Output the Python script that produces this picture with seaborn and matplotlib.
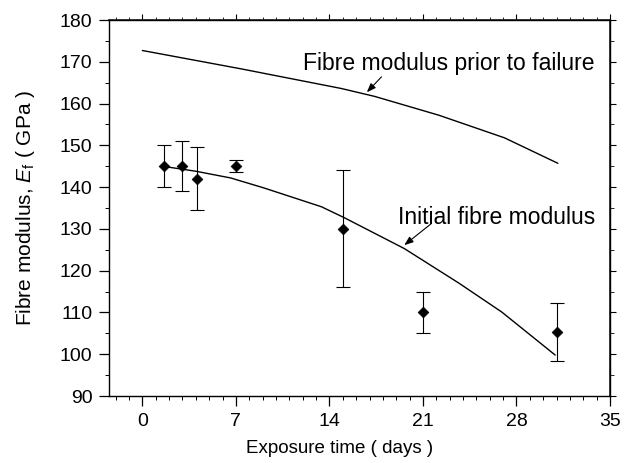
import numpy as np
import pandas as pd
import matplotlib
matplotlib.use("Agg")
import matplotlib.pyplot as plt
import seaborn as sns
from matplotlib.ticker import MultipleLocator

# Data
pt_days = [1.6, 3.0, 4.1, 7.0, 15.0, 21.0, 31.0]
pt_modulus = [145, 145, 142, 145, 130, 110, 105.3]
pt_err = [5, 6, 7.5, 1.5, 14, 5, 7]

prior_days = [0, 7.4, 14.9, 17.4, 22.2, 27.1, 31.1]
prior_modulus = [172.7, 168.3, 163.6, 161.7, 157.2, 151.8, 145.7]

init_days = [1.5, 4.0, 6.6, 9.1, 13.4, 15.1, 19.6, 23.7, 26.9, 30.9]
init_modulus = [145.0, 143.8, 142.2, 139.8, 135.3, 132.7, 125.3, 117.0, 110.1, 99.8]

xticks = [0, 7, 14, 21, 28, 35]
yticks = [90, 100, 110, 120, 130, 140, 150, 160, 170, 180]

label_prior = "Fibre modulus prior to failure"
label_init = "Initial fibre modulus"

sns.set_theme(style="ticks")
plt.rcParams['font.family'] = ['Liberation Sans', 'DejaVu Sans']
plt.rcParams['mathtext.fontset'] = 'custom'
plt.rcParams['mathtext.it'] = 'Liberation Sans:italic'
plt.rcParams['mathtext.rm'] = 'Liberation Sans'

fig = plt.figure(figsize=(6.31, 4.63), dpi=100)
ax = fig.add_axes([0.1727, 0.1447, 0.794, 0.8121])

df_prior = pd.DataFrame({"day": prior_days, "mod": prior_modulus})
df_init = pd.DataFrame({"day": init_days, "mod": init_modulus})
sns.lineplot(data=df_prior, x="day", y="mod", ax=ax, color="black", lw=1.0, sort=False)
sns.lineplot(data=df_init, x="day", y="mod", ax=ax, color="black", lw=1.0, sort=False)

ax.errorbar(pt_days, pt_modulus, yerr=pt_err, fmt="none", ecolor="black",
            elinewidth=0.8, capsize=4.8, capthick=0.8)
sns.scatterplot(x=pt_days, y=pt_modulus, ax=ax, marker="D", color="black",
                s=30, edgecolor="black", linewidth=0.5, zorder=5)

ax.set_xlim(-2.5, 35)
ax.set_ylim(90, 180)
ax.set_xticks(xticks)
ax.set_yticks(yticks)
ax.xaxis.set_minor_locator(MultipleLocator(1))
ax.yaxis.set_minor_locator(MultipleLocator(5))

for s in ax.spines.values():
    s.set_visible(True)
    s.set_linewidth(1.0)
    s.set_color("black")

ax.tick_params(which="major", direction="out", length=7, width=0.9, colors="black",
               labelsize=14, pad=5)
ax.tick_params(which="minor", direction="out", length=3, width=0.7, colors="black")

# top and right ticks (shorter, outward, no labels)
secx = ax.secondary_xaxis("top")
secx.set_xticks(xticks)
secx.xaxis.set_minor_locator(MultipleLocator(1))
secx.tick_params(which="major", direction="out", length=4.5, width=0.8, labeltop=False,
                 colors="black")
secx.tick_params(which="minor", direction="out", length=2.5, width=0.6, colors="black")
secy = ax.secondary_yaxis("right")
secy.set_yticks(yticks)
secy.yaxis.set_minor_locator(MultipleLocator(5))
secy.tick_params(which="major", direction="out", length=4.5, width=0.8, labelright=False,
                 colors="black")
secy.tick_params(which="minor", direction="out", length=3, width=0.6, colors="black")

ax.set_xlabel("Exposure time ( days )", fontsize=13.5, color="black")
ax.xaxis.set_label_coords(0.461, -0.118)
ax.set_ylabel(r"Fibre modulus, $\mathit{E}_{\mathrm{f}}$ ( GPa )", fontsize=15,
              color="black", labelpad=16)

arrow = dict(arrowstyle="-|>,head_length=0.45,head_width=0.17",
             color="black", lw=0.8, shrinkA=0, shrinkB=0)
ax.text(22.95, 169.7, label_prior, ha="center", va="center", fontsize=16.5, color="black")
ax.annotate("", xy=(16.8, 162.7), xytext=(17.9, 166.4), arrowprops=arrow)
ax.text(26.5, 132.8, label_init, ha="center", va="center", fontsize=16.5, color="black")
ax.annotate("", xy=(19.6, 126.1), xytext=(21.6, 131.2), arrowprops=arrow)

fig.savefig("out.png", dpi=100)
